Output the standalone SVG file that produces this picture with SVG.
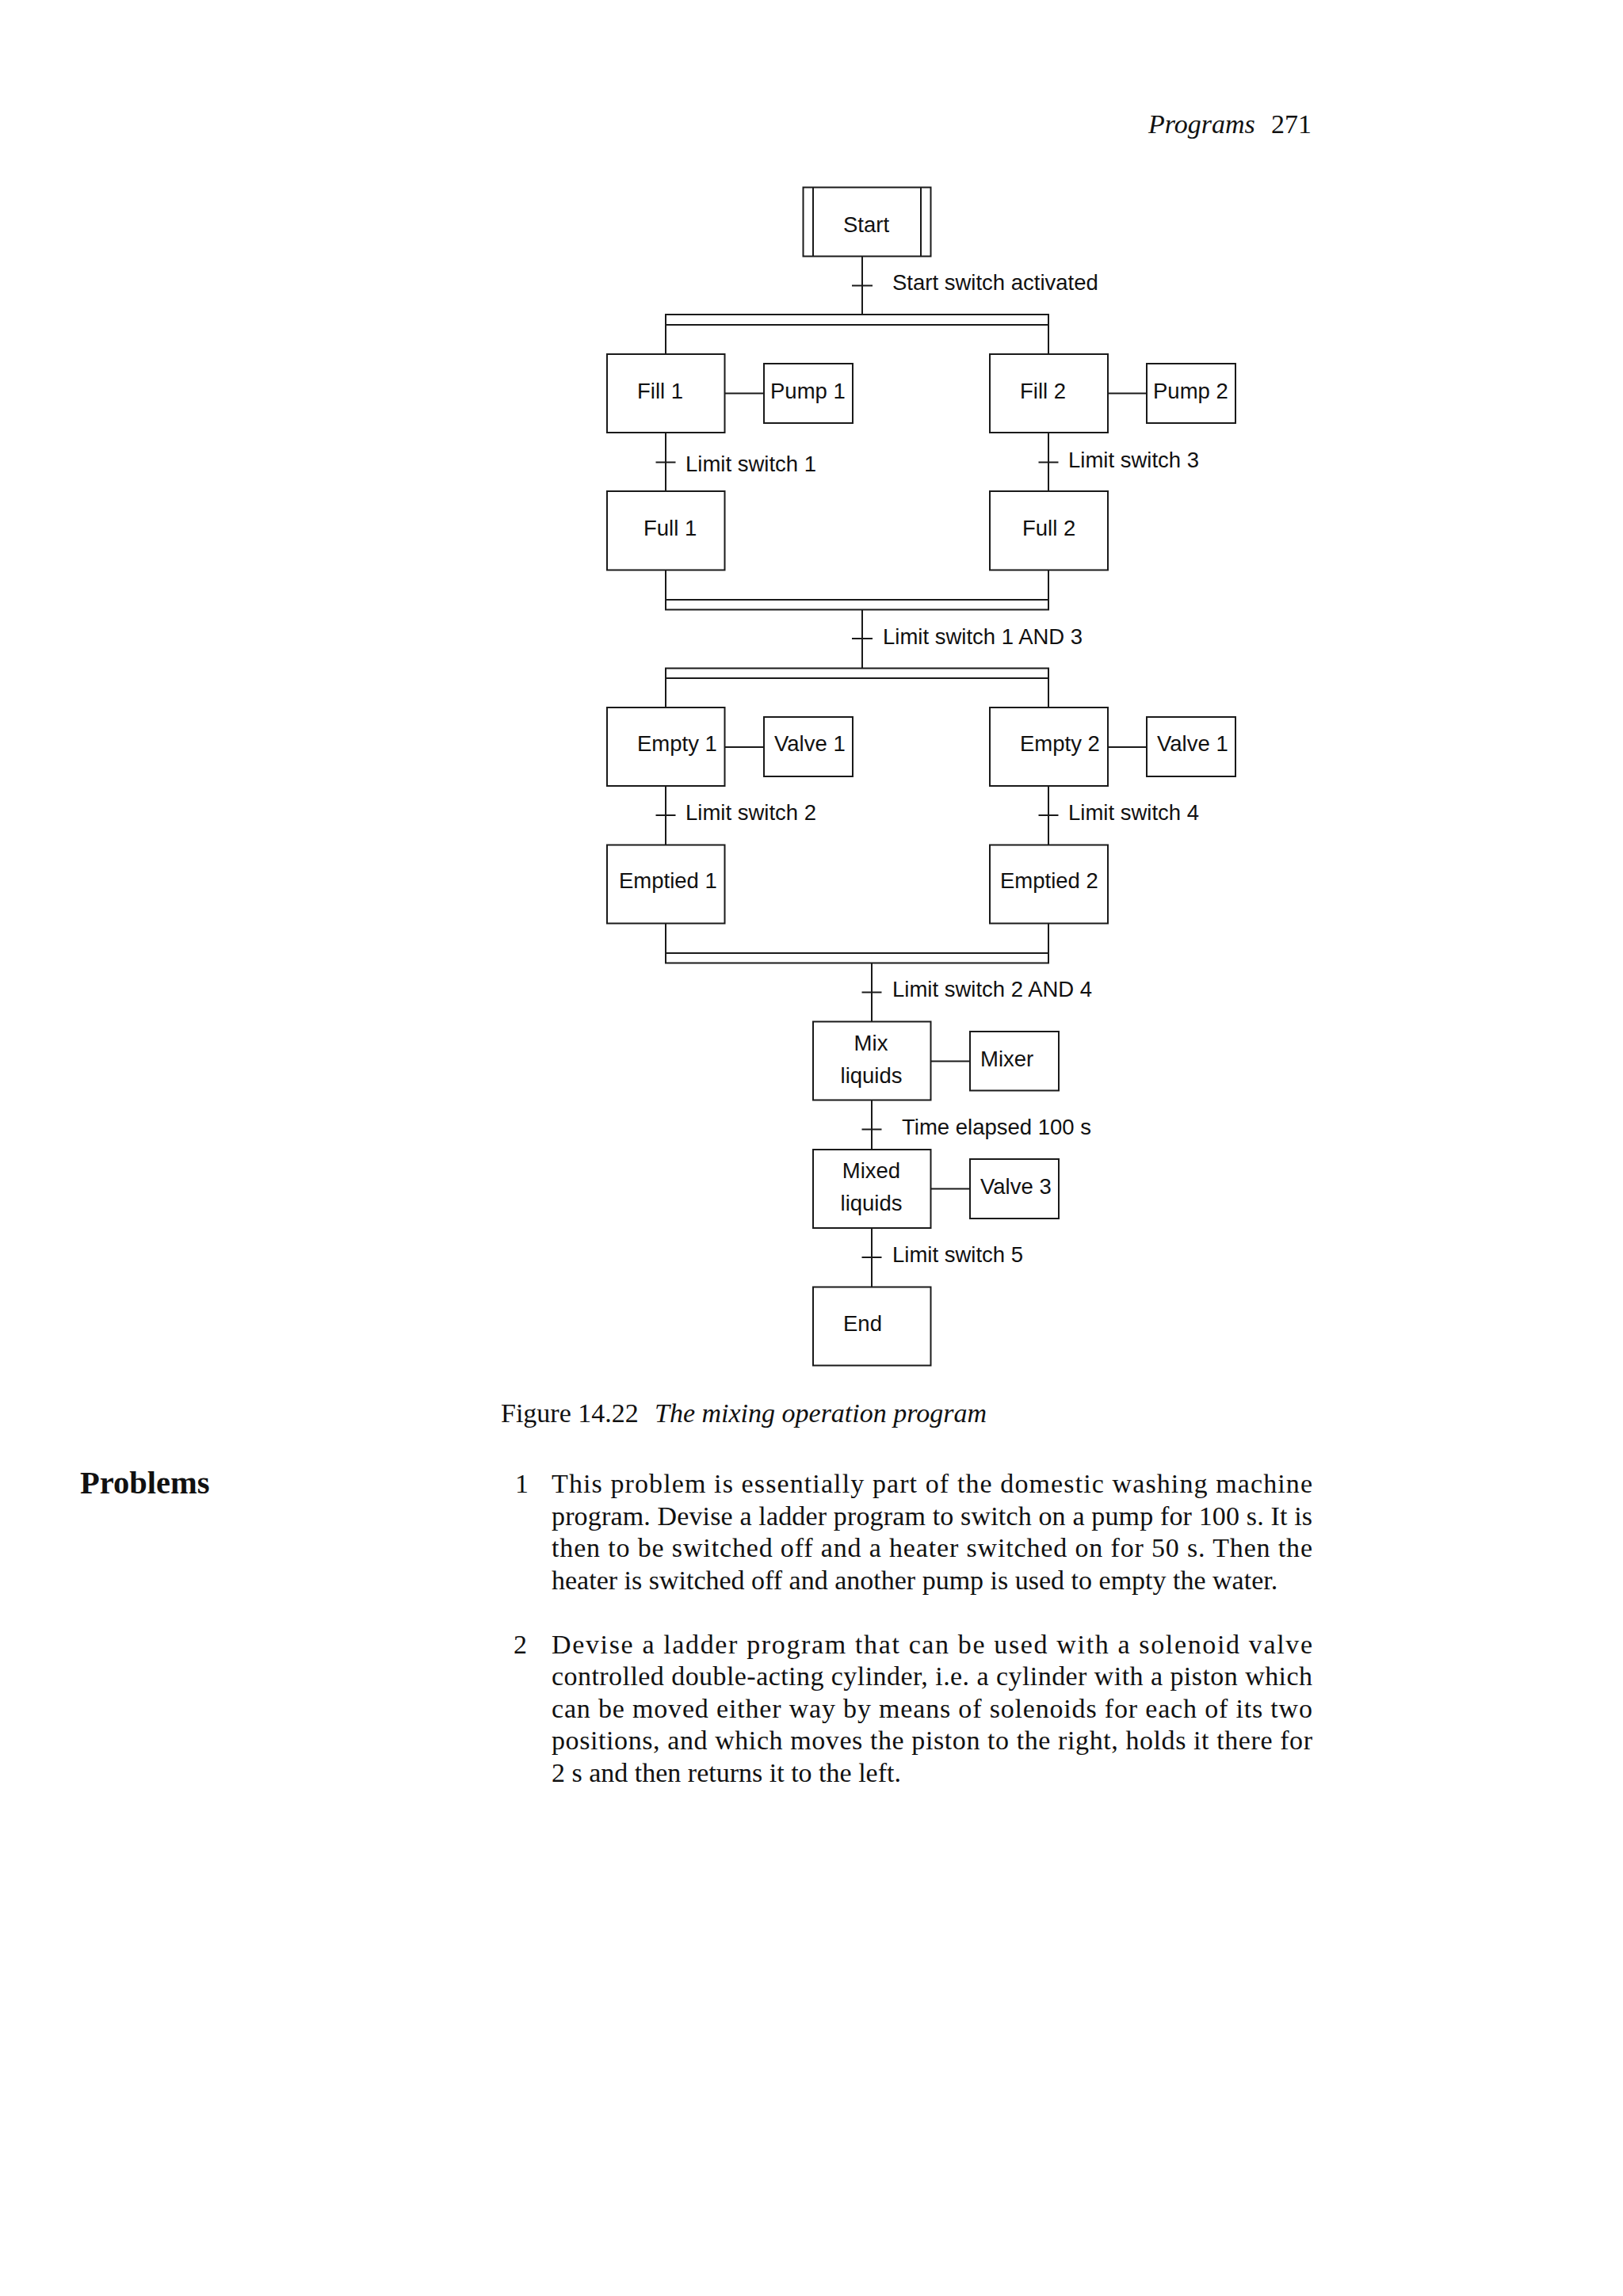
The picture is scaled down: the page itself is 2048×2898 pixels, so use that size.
<svg xmlns="http://www.w3.org/2000/svg" width="2048" height="2898" viewBox="0 0 2048 2898">
<style>
.bx{fill:#fff;stroke:#1a1a1a;stroke-width:2}
.ln{fill:none;stroke:#1a1a1a;stroke-width:2}
.t{font-family:"Liberation Sans",Arial,sans-serif;font-size:27.5px;fill:#111}
.m{text-anchor:middle}
.bt{font-family:"Liberation Serif","Times New Roman",serif;font-size:34px;fill:#111}
.it{font-style:italic}
.hd{font-family:"Liberation Serif","Times New Roman",serif;font-size:40.5px;font-weight:bold;fill:#111}
</style>
<rect x="0" y="0" width="2048" height="2898" fill="#fff"/>

<text class="bt it" x="1449" y="168">Programs</text>
<text class="bt" x="1604" y="168">271</text>

<g id="connectors">
  <line class="ln" x1="1088" y1="323.5" x2="1088" y2="397"/>
  <line class="ln" x1="1075" y1="360.5" x2="1101" y2="360.5"/>
  <text class="t" x="1126" y="366">Start switch activated</text>

  <line class="ln" x1="840" y1="410" x2="840" y2="447"/>
  <line class="ln" x1="1323" y1="410" x2="1323" y2="447"/>
  <line class="ln" x1="914.5" y1="496.5" x2="964" y2="496.5"/>
  <line class="ln" x1="1398" y1="496.5" x2="1447" y2="496.5"/>

  <line class="ln" x1="840" y1="546" x2="840" y2="620"/>
  <line class="ln" x1="827.5" y1="583.5" x2="852.5" y2="583.5"/>
  <text class="t" x="865" y="595">Limit switch 1</text>
  <line class="ln" x1="1323" y1="546" x2="1323" y2="620"/>
  <line class="ln" x1="1310.5" y1="583.5" x2="1335.5" y2="583.5"/>
  <text class="t" x="1348" y="589.5">Limit switch 3</text>

  <line class="ln" x1="840" y1="719.5" x2="840" y2="757"/>
  <line class="ln" x1="1323" y1="719.5" x2="1323" y2="757"/>

  <line class="ln" x1="1088" y1="769.5" x2="1088" y2="843.5"/>
  <line class="ln" x1="1075" y1="806" x2="1101" y2="806"/>
  <text class="t" x="1114" y="812.5">Limit switch 1 AND 3</text>

  <line class="ln" x1="840" y1="856" x2="840" y2="893"/>
  <line class="ln" x1="1323" y1="856" x2="1323" y2="893"/>
  <line class="ln" x1="914.5" y1="943" x2="964" y2="943"/>
  <line class="ln" x1="1398" y1="943" x2="1447" y2="943"/>

  <line class="ln" x1="840" y1="992" x2="840" y2="1066.5"/>
  <line class="ln" x1="827.5" y1="1029" x2="852.5" y2="1029"/>
  <text class="t" x="865" y="1035">Limit switch 2</text>
  <line class="ln" x1="1323" y1="992" x2="1323" y2="1066.5"/>
  <line class="ln" x1="1310.5" y1="1029" x2="1335.5" y2="1029"/>
  <text class="t" x="1348" y="1035">Limit switch 4</text>

  <line class="ln" x1="840" y1="1165.5" x2="840" y2="1203"/>
  <line class="ln" x1="1323" y1="1165.5" x2="1323" y2="1203"/>

  <line class="ln" x1="1100" y1="1215.5" x2="1100" y2="1289.5"/>
  <line class="ln" x1="1087.5" y1="1252.5" x2="1112.5" y2="1252.5"/>
  <text class="t" x="1126" y="1258">Limit switch 2 AND 4</text>

  <line class="ln" x1="1174.5" y1="1339.5" x2="1224" y2="1339.5"/>

  <line class="ln" x1="1100" y1="1388.5" x2="1100" y2="1451"/>
  <line class="ln" x1="1087.5" y1="1425.5" x2="1112.5" y2="1425.5"/>
  <text class="t" x="1138" y="1432">Time elapsed 100 s</text>

  <line class="ln" x1="1174.5" y1="1500.5" x2="1224" y2="1500.5"/>

  <line class="ln" x1="1100" y1="1550" x2="1100" y2="1624.5"/>
  <line class="ln" x1="1087.5" y1="1587" x2="1112.5" y2="1587"/>
  <text class="t" x="1126" y="1593">Limit switch 5</text>
</g>

<g id="sync1"><rect class="bx" x="840" y="397" width="483" height="13"/></g>
<g id="sync2"><rect class="bx" x="840" y="757" width="483" height="12.5"/></g>
<g id="sync3"><rect class="bx" x="840" y="843.5" width="483" height="12.5"/></g>
<g id="sync4"><rect class="bx" x="840" y="1203" width="483" height="12.5"/></g>

<g id="start">
  <rect class="bx" x="1013.5" y="236.5" width="161" height="87"/>
  <line class="ln" x1="1026" y1="236.5" x2="1026" y2="323.5"/>
  <line class="ln" x1="1162" y1="236.5" x2="1162" y2="323.5"/>
  <text class="t m" x="1093" y="293">Start</text>
</g>

<g id="fill1"><rect class="bx" x="766" y="447" width="148.5" height="99"/><text class="t" x="804" y="503">Fill 1</text></g>
<g id="pump1"><rect class="bx" x="964" y="459" width="112" height="75"/><text class="t" x="972" y="503">Pump 1</text></g>
<g id="fill2"><rect class="bx" x="1249" y="447" width="149" height="99"/><text class="t" x="1287" y="503">Fill 2</text></g>
<g id="pump2"><rect class="bx" x="1447" y="459" width="112" height="75"/><text class="t" x="1455" y="503">Pump 2</text></g>
<g id="full1"><rect class="bx" x="766" y="620" width="148.5" height="99.5"/><text class="t" x="812" y="676">Full 1</text></g>
<g id="full2"><rect class="bx" x="1249" y="620" width="149" height="99.5"/><text class="t" x="1290" y="676">Full 2</text></g>

<g id="empty1"><rect class="bx" x="766" y="893" width="148.5" height="99"/><text class="t" x="804" y="948">Empty 1</text></g>
<g id="valve1a"><rect class="bx" x="964" y="905" width="112" height="75"/><text class="t" x="977" y="948">Valve 1</text></g>
<g id="empty2"><rect class="bx" x="1249" y="893" width="149" height="99"/><text class="t" x="1287" y="948">Empty 2</text></g>
<g id="valve1b"><rect class="bx" x="1447" y="905" width="112" height="75"/><text class="t" x="1460" y="948">Valve 1</text></g>
<g id="emptied1"><rect class="bx" x="766" y="1066.5" width="148.5" height="99"/><text class="t" x="781" y="1121">Emptied 1</text></g>
<g id="emptied2"><rect class="bx" x="1249" y="1066.5" width="149" height="99"/><text class="t" x="1262" y="1121">Emptied 2</text></g>

<g id="mix"><rect class="bx" x="1026" y="1289.5" width="148.5" height="99"/><text class="t m" x="1099" y="1325.5">Mix</text><text class="t m" x="1099.5" y="1366.5">liquids</text></g>
<g id="mixer"><rect class="bx" x="1224" y="1302" width="112" height="74.5"/><text class="t" x="1237" y="1345.5">Mixer</text></g>
<g id="mixed"><rect class="bx" x="1026" y="1451" width="148.5" height="99"/><text class="t m" x="1099.5" y="1486.5">Mixed</text><text class="t m" x="1099.5" y="1527.5">liquids</text></g>
<g id="valve3"><rect class="bx" x="1224" y="1463" width="112" height="75"/><text class="t" x="1237" y="1507">Valve 3</text></g>
<g id="end"><rect class="bx" x="1026" y="1624.5" width="148.5" height="99"/><text class="t" x="1064" y="1680">End</text></g>

<text class="bt" x="632" y="1795">Figure 14.22</text>
<text class="bt it" x="826" y="1795">The mixing operation program</text>

<text class="hd" x="101" y="1885">Problems</text>

<text class="bt" x="650" y="1884">1</text>
<text class="bt" x="696" y="1884" textLength="960" lengthAdjust="spacing">This problem is essentially part of the domestic washing machine</text>
<text class="bt" x="696" y="1924.5" textLength="960" lengthAdjust="spacing">program. Devise a ladder program to switch on a pump for 100 s. It is</text>
<text class="bt" x="696" y="1965" textLength="960" lengthAdjust="spacing">then to be switched off and a heater switched on for 50 s. Then the</text>
<text class="bt" x="696" y="2005.5">heater is switched off and another pump is used to empty the water.</text>

<text class="bt" x="648" y="2086.5">2</text>
<text class="bt" x="696" y="2086.5" textLength="960" lengthAdjust="spacing">Devise a ladder program that can be used with a solenoid valve</text>
<text class="bt" x="696" y="2127" textLength="960" lengthAdjust="spacing">controlled double-acting cylinder, i.e. a cylinder with a piston which</text>
<text class="bt" x="696" y="2167.5" textLength="960" lengthAdjust="spacing">can be moved either way by means of solenoids for each of its two</text>
<text class="bt" x="696" y="2208" textLength="960" lengthAdjust="spacing">positions, and which moves the piston to the right, holds it there for</text>
<text class="bt" x="696" y="2248.5">2 s and then returns it to the left.</text>
</svg>
